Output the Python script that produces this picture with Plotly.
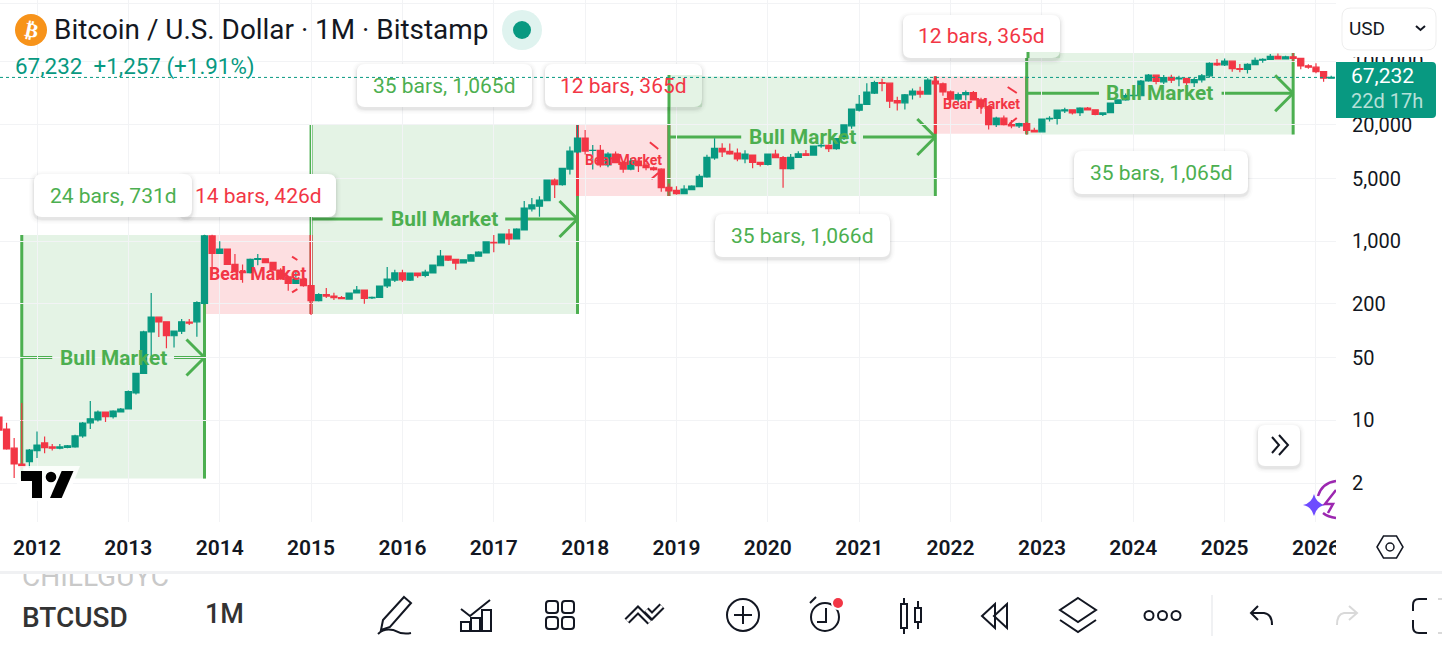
import math
import plotly.graph_objects as go

W, H = 1442, 649

# Monthly bars from Aug 2011 to Mar 2026, index 0 = Jan 2012
first_month = -5
opens = [
    10.9, 8.0, 4.9, 3.26, 3.46,
    4.6, 5.6, 5.05, 4.9, 5.0, 5.05, 6.7, 9.4, 10.1, 12.4, 11.0, 12.4,
    13.4, 20.2, 33.5, 97, 142, 126, 88, 99, 125, 126, 202, 1143,
    732, 818, 552, 456, 445, 628, 635, 580, 476, 400, 338, 378,
    320, 217, 253, 244, 235, 226, 264, 285, 232, 236, 316, 368,
    442, 368, 440, 416, 442, 532, 682, 625, 572, 600, 680, 738,
    968, 955, 1202, 1060, 1334, 2286, 2460, 2826, 4800, 4280, 6384, 9886,
    14158, 10300, 10330, 7080, 9400, 7600, 6384, 7850, 7000, 6600, 6360, 3990,
    3698, 3390, 3760, 4056, 5200, 8472, 10866, 10070, 9640, 8280, 9150, 7560,
    7170, 9350, 8550, 6440, 8630, 9450, 9130, 11550, 11700, 10800, 13930, 19400,
    29000, 33660, 45000, 58800, 58000, 37000, 35000, 43000, 47100, 43800, 61300, 57000,
    46300, 38500, 43200, 45500, 37700, 31800, 19950, 23600, 20000, 19400, 20500, 17200,
    16600, 23100, 23500, 28400, 29200, 27200, 30500, 29300, 26000, 27200, 34400, 37700,
    42100, 42000, 61300, 71300, 60000, 67500, 64800, 65500, 58800, 63000, 70000, 96500,
    93000, 102000, 84300, 82500, 93500, 104500, 106500, 115500, 108500, 114000, 109500, 90500,
    87500, 78000, 66000,
]
closes = [
    7.8, 4.8, 3.26, 3.05, 4.67,
    5.3, 4.96, 4.9, 5.05, 5.2, 6.7, 9.35, 10.4, 12.4, 11.0, 12.7, 13.4,
    20.9, 33.5, 97, 142, 126, 88, 99, 126, 122, 206, 1143, 732,
    818, 552, 456, 445, 628, 640, 576, 476, 379, 338, 375, 318,
    217, 253, 244, 234, 229, 264, 285, 230, 236, 316, 378, 442,
    370, 440, 412, 452, 542, 682, 616, 570, 620, 702, 756, 980,
    958, 1202, 1058, 1368, 2344, 2536, 2878, 4800, 4276, 6500, 10140, 14158,
    10140, 10330, 7080, 9400, 7516, 6384, 7850, 6950, 6600, 6300, 3954, 3640,
    3388, 3820, 4130, 5296, 8630, 10866, 9886, 9400, 8260, 9400, 7560, 7200,
    9350, 8552, 6440, 8630, 9460, 9078, 11536, 11700, 10800, 13932, 19816, 29856,
    33660, 46240, 58760, 57700, 36650, 35000, 43000, 47400, 43800, 62940, 57000, 46300,
    38500, 43200, 45500, 37700, 31700, 20000, 23600, 20000, 19400, 20500, 17200, 16600,
    23100, 23500, 29100, 29300, 27100, 30500, 29200, 26000, 27000, 34750, 37700, 42100,
    42500, 61300, 71300, 60600, 67000, 62500, 66000, 58800, 63500, 70200, 96500, 93000,
    102500, 84300, 82500, 94000, 104500, 107000, 115500, 108200, 114000, 109500, 90500, 87500,
    78000, 66000, 67232,
]
highs = [
    11.5, 9.4, 6.35, 15.6, 4.8,
    7.5, 6.6, 5.45, 5.45, 5.3, 6.9, 9.6, 16.4, 12.9, 12.6, 13.0, 13.7,
    21.5, 34, 100, 264, 143, 128, 100, 135, 135, 214, 1180, 1180,
    1000, 830, 719, 550, 640, 720, 640, 590, 500, 410, 460, 385,
    320, 262, 300, 266, 245, 268, 315, 287, 242, 320, 514, 480,
    480, 445, 445, 480, 550, 796, 690, 630, 625, 720, 770, 990,
    1172, 1220, 1368, 1390, 2806, 3028, 3180, 4850, 4990, 6600, 11400, 19800,
    17420, 11830, 11830, 9800, 10000, 7800, 8400, 8500, 7400, 6800, 6500, 4400,
    4100, 4200, 4200, 5600, 9200, 14060, 12360, 12300, 10800, 10350, 9300, 7700,
    9500, 10500, 8900, 9400, 10100, 10400, 11700, 12400, 12100, 14000, 20000, 30000,
    42760, 58000, 61800, 64900, 59000, 41000, 44000, 50500, 52900, 66000, 69000, 59000,
    48000, 45500, 48000, 47500, 40000, 32300, 24500, 25200, 22500, 21000, 21400, 18400,
    23300, 24800, 29200, 30800, 29400, 31300, 31500, 29600, 27300, 35000, 38000, 44500,
    48500, 63000, 73500, 72500, 71500, 72000, 70000, 65800, 66500, 73500, 99500, 108000,
    109000, 102500, 95000, 97000, 112000, 110000, 123000, 124500, 117000, 126000, 111000, 94500,
    97000, 79000, 70000,
]
lows = [
    7.4, 4.7, 2.27, 2.9, 2.94,
    3.8, 4.3, 4.6, 4.75, 4.9, 4.95, 6.4, 8.0, 9.7, 9.6, 10.5, 12.3,
    13.2, 19.5, 33, 51, 85, 64, 65, 92, 116, 86, 197, 412,
    720, 545, 450, 344, 435, 540, 570, 470, 370, 280, 335, 310,
    150, 212, 232, 220, 225, 222, 262, 200, 226, 234, 300, 350,
    350, 360, 390, 395, 440, 525, 600, 480, 568, 598, 675, 730,
    752, 940, 906, 1050, 1320, 2150, 1870, 2800, 3028, 4150, 5550, 9500,
    9300, 6300, 6700, 6700, 7400, 5800, 6200, 5900, 6200, 6100, 3556, 3192,
    3300, 3380, 3700, 4000, 5100, 8100, 8700, 9200, 7800, 7400, 6500, 6800,
    7000, 8400, 3944, 6300, 8500, 8900, 9000, 11000, 9900, 10500, 13500, 18000,
    28000, 33000, 44000, 47000, 30600, 28800, 29500, 38000, 40000, 43000, 53000, 42000,
    33000, 34300, 37500, 37500, 26500, 17600, 18800, 19500, 18200, 18300, 15500, 16300,
    16500, 21700, 20000, 26900, 26000, 25000, 28900, 25500, 25000, 26800, 34000, 37000,
    38500, 41900, 60000, 56500, 56700, 58400, 53500, 49000, 52500, 58900, 66800, 90000,
    90000, 78000, 76600, 74500, 93000, 98000, 105000, 107500, 107500, 102000, 83000, 84000,
    75000, 60000, 65800,
]
assert len(opens) == len(closes) == len(highs) == len(lows)
months = list(range(first_month, first_month + len(opens)))

years = [str(y) for y in range(2012, 2027)]
year_months = [12 * i for i in range(len(years))]
price_ticks = [2, 10, 50, 200, 1000, 5000, 20000, 100000, 450000]
price_labels = ["2", "10", "50", "200", "1,000", "5,000", "20,000", "100,000", ""]

# Drawings: start month, end month, top price, bottom price, arrow price, gap start, gap end
bull_ranges = {
    "b1": (-2, 22, 1172, 2.24, 50.3, 2, 18),
    "b2": (36, 71, 20300, 154, 1768, 45.4, 61.5),
    "b3": (83, 118, 69000, 3192, 14540, 92.5, 108.5),
    "b4": (130, 165, 126000, 15500, 44700, 139.5, 155.6),
}
bear_ranges = {
    "r1": (22, 36, 1172, 154),
    "r2": (71, 83, 19800, 3192),
    "r3": (118, 130, 69000, 15800),
}
bear_ticks = [
    (33.5, 672, 34.2, 616), (34.2, 292, 33.5, 268),
    (80.5, 12680, 81.6, 10690), (81.6, 5770, 80.7, 4940),
    (127.5, 52600, 128.7, 45000), (128.7, 23700, 127.7, 20300),
]
bear_label_prices = {"r1": 430, "r2": 8050, "r3": 33960}
bear_label_sizes = {"r1": 17.7, "r2": 14, "r3": 14}
last_price = 67232

GREEN, RED, TEAL, INK = "#4caf50", "#f23645", "#089981", "#131722"
GFILL, RFILL = "rgba(76,175,80,0.15)", "rgba(242,54,69,0.16)"
PX_PER_MONTH = 7.613
PX_PER_DECADE = 89.6
HEAD = 18

shapes, annos = [], []


def px(x, y):
    return f"{x / W:.5f},{1 - y / H:.5f}"


def path(points, close=False):
    s = "M" + " L".join(px(*p) for p in points)
    return s + (" Z" if close else "")


def add_path(d, color=INK, width=2, fill=None, layer="above"):
    shapes.append(dict(type="path", xref="paper", yref="paper", path=d, layer=layer,
                       line=dict(color=color, width=width), fillcolor=fill or "rgba(0,0,0,0)"))


def add_circle(cx, cy, r, color=INK, width=2, fill=None):
    shapes.append(dict(type="circle", xref="paper", yref="paper", layer="above",
                       x0=(cx - r) / W, x1=(cx + r) / W, y0=1 - (cy + r) / H, y1=1 - (cy - r) / H,
                       line=dict(color=color, width=width), fillcolor=fill or "rgba(0,0,0,0)"))


def add_rect(x0, y0, x1, y1, fill, layer="above"):
    shapes.append(dict(type="rect", xref="paper", yref="paper", layer=layer,
                       x0=x0 / W, x1=x1 / W, y0=1 - y1 / H, y1=1 - y0 / H,
                       line=dict(width=0), fillcolor=fill))


def round_rect(x0, y0, x1, y1, r):
    return (f"M{px(x0 + r, y0)} L{px(x1 - r, y0)} Q{px(x1, y0)} {px(x1, y0 + r)} "
            f"L{px(x1, y1 - r)} Q{px(x1, y1)} {px(x1 - r, y1)} L{px(x0 + r, y1)} "
            f"Q{px(x0, y1)} {px(x0, y1 - r)} L{px(x0, y0 + r)} Q{px(x0, y0)} {px(x0 + r, y0)} Z")


def card(x0, y0, x1, y1, r=8):
    for grow, a in ((5, 0.012), (3.5, 0.02), (2, 0.03), (1, 0.04)):
        add_path(round_rect(x0 - grow, y0 - grow + 2, x1 + grow, y1 + grow + 2, r + grow),
                 "rgba(0,0,0,0)", 0, f"rgba(0,0,0,{a})")
    add_path(round_rect(x0, y0, x1, y1, r), "rgba(0,0,0,0)", 0, "#ffffff")


def text(x, y, s, size, color=INK, anchor="left", family="Roboto", weight=None, angle=0):
    font = dict(family=family, size=size, color=color)
    if weight:
        font["weight"] = weight
    annos.append(dict(xref="paper", yref="paper", x=x / W, y=1 - y / H, text=s, showarrow=False,
                      xanchor=anchor, yanchor="middle", font=font, textangle=angle,
                      borderpad=0, borderwidth=0))


def data_line(x0, y0, x1, y1, color, width):
    shapes.append(dict(type="line", xref="x", yref="y", layer="below", x0=x0, x1=x1, y0=y0, y1=y1,
                       line=dict(color=color, width=width)))


def data_rect(x0, x1, top, bottom, fill):
    shapes.append(dict(type="rect", xref="x", yref="y", layer="below", x0=x0, x1=x1, y0=bottom, y1=top,
                       line=dict(width=0), fillcolor=fill))


def bull(key):
    a, b, top, bot, mid, g0, g1 = bull_ranges[key]
    data_rect(a, b, top, bot, GFILL)
    data_line(a, bot, a, top, GREEN, 3)
    data_line(b, bot, b, top, GREEN, 3)
    data_line(a, mid, g0, mid, GREEN, 3)
    data_line(g1, mid, b, mid, GREEN, 3)
    dx = HEAD / PX_PER_MONTH
    f = 10 ** (HEAD / PX_PER_DECADE)
    data_line(b - dx, mid * f, b, mid, GREEN, 3)
    data_line(b - dx, mid / f, b, mid, GREEN, 3)
    annos.append(dict(xref="x", yref="y", x=(a + b) / 2, y=math.log10(mid), text="<b>Bull Market</b>",
                      showarrow=False, font=dict(family="Roboto", size=20.8, color=GREEN)))


def bear(key):
    a, b, top, bot = bear_ranges[key]
    data_rect(a, b, top, bot, RFILL)
    data_line(a, bot, a, top, RED, 3)
    data_line(b, bot, b, top, RED, 3)


bull("b2"); bear("r1"); bull("b1"); bear("r2"); bull("b3"); bear("r3"); bull("b4")
for t in bear_ticks:
    data_line(t[0], t[1], t[2], t[3], RED, 2)

for k in bear_ranges:
    a, b, top, bot = bear_ranges[k]
    annos.append(dict(xref="x", yref="y", x=(a + b) / 2, y=math.log10(bear_label_prices[k]),
                      text="<b>Bear Market</b>", showarrow=False,
                      font=dict(family="Roboto", size=bear_label_sizes[k], color=RED)))

# Measure cards
cards = [
    (180, 174, 336, 217, "14 bars, 426d", RED),
    (34, 174, 192, 217, "24 bars, 731d", GREEN),
    (357, 64, 532, 107, "35 bars, 1,065d", GREEN),
    (545, 64, 702, 107, "12 bars, 365d", RED),
    (715, 214, 890, 257, "35 bars, 1,066d", GREEN),
    (903, 15, 1060, 58, "12 bars, 365d", RED),
    (1074, 151, 1248, 194, "35 bars, 1,065d", GREEN),
]
for c in cards:
    card(c[0], c[1], c[2], c[3])
for c in cards:
    text((c[0] + c[2]) / 2, (c[1] + c[3]) / 2, c[4], 21, c[5], "center")

# drawings that lie over two of the cards
add_rect(669, 75, 702, 107, GFILL)
add_path(path([(669, 75), (669, 107)]), GREEN, 3)
add_rect(1028, 52, 1060, 58, GFILL)
add_path(path([(1028, 52), (1028, 58)]), GREEN, 3)

# Last price line
shapes.append(dict(type="line", xref="paper", yref="y", layer="above", x0=0, x1=1336 / W,
                   y0=last_price, y1=last_price, line=dict(color=TEAL, width=1, dash="dot")))

# Header
add_circle(31, 30, 16, "#f7931a", 0, "#f7931a")
text(31, 30, "<b>₿</b>", 20, "#ffffff", "center", "DejaVu Sans", angle=12)
text(54, 30, "Bitcoin / U.S. Dollar · 1M · Bitstamp", 27.9, INK)
add_circle(522, 30, 20, "#dff3ef", 0, "#dff3ef")
add_circle(522, 30, 9, TEAL, 0, TEAL)
text(15, 67, "67,232  +1,257 (+1.91%)", 22.4, TEAL)

# Price scale chips
add_rect(1340, 50, 1436, 57, "#ffffff")
add_path(round_rect(1342, 8, 1436, 50, 9), "#eeeeee", 1, "#ffffff")
text(1349, 28, "USD", 19, INK)
add_path(path([(1416, 26), (1420.5, 30), (1425, 26)]), INK, 2)
add_rect(1336, 62, 1340, 118, TEAL)
add_path(round_rect(1336, 62, 1436, 118, 4), TEAL, 0, TEAL)
text(1351, 76, "67,232", 21, "#ffffff")
text(1351, 101, "22d 17h", 20, "#b5e0d8")

# TradingView mark
add_path(path([(17, 466), (80, 466), (66, 501), (17, 501)], True), "rgba(0,0,0,0)", 0, "rgba(255,255,255,0.85)")
add_path(path([(21, 471), (42, 471), (42, 498), (32, 498), (32, 481), (21, 481)], True), "#000000", 0, "#000000")
add_circle(51, 477, 5.3, "#000000", 0, "#000000")
add_path(path([(73.5, 471), (61.7, 498), (50, 498), (61.7, 471)], True), "#000000", 0, "#000000")

# Scroll button
card(1258, 425, 1300, 466, 7)
add_path(path([(1272, 437), (1279, 445), (1272, 453)]), INK, 2)
add_path(path([(1279, 435), (1288, 445), (1279, 455)]), INK, 2)

# Sparkle icon, clipped at the edge of the pane
add_path(f"M{px(1314, 494)} Q{px(1316, 503)} {px(1325, 505)} Q{px(1316, 507)} {px(1314, 516)} "
         f"Q{px(1312, 507)} {px(1303, 505)} Q{px(1312, 503)} {px(1314, 494)} Z", "#6e4bff", 0, "#6e4bff")
add_path(f"M{px(1318, 496)} Q{px(1322, 483)} {px(1336, 481)}", "#9c27b0", 2.5)
add_path(f"M{px(1323, 513)} Q{px(1328, 517)} {px(1336, 518)}", "#9c27b0", 2.5)
add_path(path([(1336, 490), (1325, 504), (1333, 504), (1328, 513)]), "#9c27b0", 2.5)
add_rect(1336, 475, 1345, 525, "#ffffff")

# Clip of the last year label
add_rect(1336, 530, 1372, 562, "#ffffff")

# Settings hexagon
add_path(path([(1377, 547), (1383.5, 536), (1396.5, 536), (1403, 547), (1396.5, 558), (1383.5, 558)], True), INK, 1.5)
add_circle(1390, 547, 4, INK, 1.5)

# Toolbar
add_rect(0, 571, W, 574, "#f0f1f3")
text(22, 617, "BTCUSD", 28, "#333333", weight=500)
text(205, 614, "1M", 27, "#333333", weight=500)
add_path(path([(404, 597), (411, 603), (390, 627), (381, 630), (383, 620)], True))
add_path(f"M{px(378, 634)} Q{px(384, 628)} {px(393, 630)} Q{px(402, 635)} {px(411, 633)}")
add_path(path([(461, 609), (470, 616), (490, 600)]))
for x0, y0 in ((461, 622), (471, 618), (482, 610)):
    add_path(path([(x0, y0), (x0 + 9, y0), (x0 + 9, 631), (x0, 631)], True))
for x0, y0 in ((546, 601), (562, 601), (546, 617), (562, 617)):
    add_path(round_rect(x0, y0, x0 + 12, y0 + 12, 3))
for pts in ([(627, 621), (638, 610), (650, 622)], [(646, 610), (652, 616), (662, 606)]):
    add_path(path(pts), INK, 7)
for pts in ([(627, 621), (638, 610), (650, 622)], [(646, 610), (652, 616), (662, 606)]):
    add_path(path(pts), "#ffffff", 3)
add_circle(743, 615, 16)
add_path(path([(734, 615), (752, 615)]))
add_path(path([(743, 606), (743, 624)]))
add_circle(825, 617, 14)
add_path(path([(826, 608), (826, 622), (817, 622)]))
add_path(path([(810, 603), (816, 597)]))
add_circle(838, 603, 7, "#ffffff", 0, "#ffffff")
add_circle(838, 603, 5, RED, 0, RED)
add_path(path([(901, 604), (907, 604), (907, 628), (901, 628)], True))
add_path(path([(904, 598), (904, 604)]))
add_path(path([(904, 628), (904, 634)]))
add_path(path([(915, 608), (921, 608), (921, 622), (915, 622)], True))
add_path(path([(918, 601), (918, 608)]))
add_path(path([(918, 622), (918, 629)]))
add_path(path([(995, 604), (982, 616), (995, 628)], True))
add_path(path([(1007, 604), (994, 616), (1007, 628)], True))
add_path(path([(1078, 598), (1096, 610), (1078, 622), (1060, 610)], True))
add_path(path([(1060, 620), (1078, 632), (1096, 620)]))
for cx in (1149, 1162.5, 1176):
    add_circle(cx, 615.5, 4.5)
add_rect(1211, 595, 1213, 636, "#f0f1f3")
add_path(path([(1258, 606), (1251, 613), (1258, 620)]))
add_path(f"M{px(1251, 613)} L{px(1264, 613)} Q{px(1272, 614)} {px(1272, 625)}")
add_path(path([(1349, 606), (1357, 613), (1349, 620)]), "#d9d9d9")
add_path(f"M{px(1357, 613)} L{px(1344, 613)} Q{px(1337, 614)} {px(1337, 625)}", "#d9d9d9")
add_path(f"M{px(1427, 599)} L{px(1419, 599)} Q{px(1413, 599)} {px(1413, 605)} L{px(1413, 611)}")
add_path(f"M{px(1413, 620)} L{px(1413, 627)} Q{px(1413, 633)} {px(1419, 633)} L{px(1427, 633)}")
add_path(path([(1438, 599), (1442, 599)]), "#d9d9d9")
add_path(path([(1438, 633), (1442, 633)]), "#d9d9d9")

fig = go.Figure()
fig.add_trace(go.Candlestick(
    x=months, open=opens, high=highs, low=lows, close=closes,
    increasing=dict(line=dict(color=TEAL, width=1.2), fillcolor=TEAL),
    decreasing=dict(line=dict(color=RED, width=1.2), fillcolor=RED),
    whiskerwidth=0, hoverinfo="skip", showlegend=False,
))
fig.add_trace(go.Scatter(
    x=[22], y=[579], xaxis="x2", yaxis="y2", mode="text", text=["CHILLGUYC"],
    textposition="middle right", textfont=dict(family="Roboto", size=28, color="#c9c9c9"),
    cliponaxis=True, hoverinfo="skip", showlegend=False,
))

x_low = (0 - 37) / PX_PER_MONTH
x_high = (1336 - 37) / PX_PER_MONTH
y_low = math.log10(2) - (522 - 483) / PX_PER_DECADE
y_high = math.log10(2) + 483 / PX_PER_DECADE

fig.update_layout(
    width=W, height=H, autosize=False,
    margin=dict(l=0, r=0, t=0, b=0, pad=0, autoexpand=False),
    paper_bgcolor="#ffffff", plot_bgcolor="#ffffff",
    showlegend=False, boxgap=0.2, boxgroupgap=0,
    shapes=shapes, annotations=annos, dragmode=False,
    xaxis=dict(domain=[0, 1336 / W], range=[x_low, x_high], anchor="y", automargin=False,
               tickmode="array", tickvals=year_months, ticktext=years,
               tickfont=dict(family="Roboto", size=21, color=INK, weight=600),
               ticklabelstandoff=11, showgrid=True, gridcolor="#f2f3f5", gridwidth=1,
               zeroline=False, showline=False, ticks="", rangeslider=dict(visible=False),
               ticklabeloverflow="allow", fixedrange=True),
    yaxis=dict(domain=[127 / H, 1], type="log", range=[y_low, y_high], anchor="x", side="right",
               automargin=False, tickmode="array", tickvals=price_ticks, ticktext=price_labels,
               tickfont=dict(family="Roboto", size=20, color=INK),
               ticklabelstandoff=15, showgrid=True, gridcolor="#f2f3f5", gridwidth=1,
               zeroline=False, showline=False, ticks="", fixedrange=True),
    xaxis2=dict(domain=[0, 172 / W], range=[0, 172], anchor="y2", visible=False, fixedrange=True, automargin=False),
    yaxis2=dict(domain=[(H - 590) / H, (H - 574) / H], range=[590, 574], anchor="x2", visible=False, fixedrange=True, automargin=False),
)

fig.write_html("out.html", config=dict(displayModeBar=False, responsive=False),
               post_script="document.body.style.margin='0';document.body.style.overflow='hidden';")
